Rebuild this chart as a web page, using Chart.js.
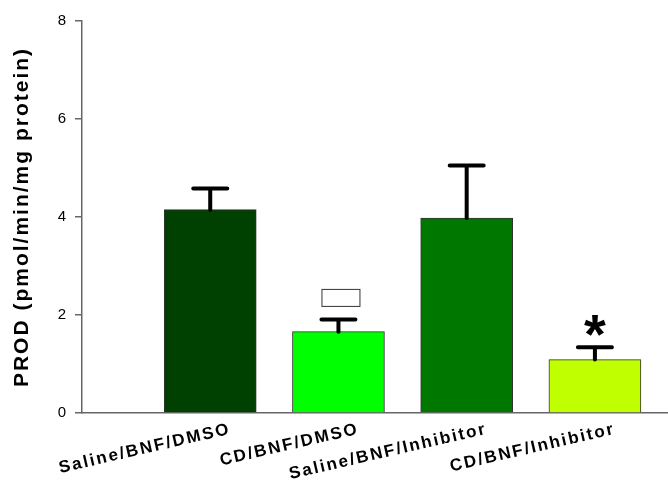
<!DOCTYPE html>
<html>
<head>
<meta charset="utf-8">
<script src="https://cdn.jsdelivr.net/npm/chart.js@4"></script>
<style>
  html, body { margin: 0; padding: 0; background: #fff; }
  #wrap { width: 668px; height: 482px; }
</style>
</head>
<body>
<div id="wrap"><canvas id="prodChart"></canvas></div>
<script>
// PROD activity per treatment group
let groups = ["Saline/BNF/DMSO", "CD/BNF/DMSO", "Saline/BNF/Inhibitor", "CD/BNF/Inhibitor"];
let means = [4.15, 1.66, 3.98, 1.09];
let errors = [0.43, 0.25, 1.07, 0.25];
let marks = ["", "box", "", "*"];
let barColors = ["#004000", "#00ff00", "#007800", "#c0ff00"];
let yTicks = [0, 2, 4, 6, 8];

// spaced-out lettering for the axis text
const spacing = {
    id: "spacing",
    beforeDraw(chart) { chart.ctx.letterSpacing = "2px"; },
    afterDraw(chart) { chart.ctx.letterSpacing = "0px"; }
};

// upper error whiskers plus significance marks
const errorBars = {
    id: "errorBars",
    afterDatasetsDraw(chart) {
        let ctx = chart.ctx;
        let y = chart.scales.y;
        let meta = chart.getDatasetMeta(0);
        ctx.save();
        ctx.letterSpacing = "0px";
        ctx.strokeStyle = "#000";
        ctx.lineWidth = 4;
        ctx.lineCap = "round";
        meta.data.forEach((bar, i) => {
            let yTop = y.getPixelForValue(means[i] + errors[i]);
            let yBase = y.getPixelForValue(means[i]);
            ctx.beginPath();
            ctx.moveTo(bar.x, yBase);
            ctx.lineTo(bar.x, yTop);
            ctx.moveTo(bar.x - 17, yTop);
            ctx.lineTo(bar.x + 17, yTop);
            ctx.stroke();

            if (marks[i] === "*") {
                ctx.fillStyle = "#000";
                ctx.font = "bold 56px Arial, 'Liberation Sans', sans-serif";
                ctx.textAlign = "center";
                ctx.textBaseline = "middle";
                ctx.fillText("*", bar.x, yTop - 10);
            } else if (marks[i] === "box") {
                ctx.save();
                ctx.lineWidth = 1;
                ctx.strokeStyle = "#333";
                ctx.fillStyle = "#fff";
                ctx.fillRect(bar.x - 16.5, yTop - 30, 38, 17);
                ctx.strokeRect(bar.x - 16.5, yTop - 30, 38, 17);
                ctx.restore();
            }
        });
        ctx.restore();
    }
};

let ctx = document.getElementById("prodChart").getContext("2d");

window.prodChart = new Chart(ctx, {
    type: "bar",
    data: {
        datasets: [{
            data: means.map((v, i) => ({ x: i + 1, y: v })),
            backgroundColor: barColors,
            borderColor: "#333",
            borderWidth: 1,
            barThickness: 92
        }]
    },
    options: {
        responsive: true,
        maintainAspectRatio: false,
        animation: false,
        layout: { padding: { top: 21, right: 0, bottom: 0, left: 0 } },
        plugins: {
            legend: { display: false },
            tooltip: { enabled: false }
        },
        scales: {
            x: {
                type: "linear",
                offset: false,
                min: 0,
                max: 4.57,
                afterBuildTicks: s => { s.ticks = groups.map((g, i) => ({ value: i + 1 })); },
                afterFit: s => { s.height = 69; },
                grid: { display: false, drawTicks: false },
                border: { display: true, color: "#666", width: 1.5 },
                ticks: {
                    autoSkip: false,
                    minRotation: 13,
                    maxRotation: 13,
                    padding: 6,
                    labelOffset: 20,
                    color: "#000",
                    font: { family: "Arial, 'Liberation Sans', sans-serif", size: 17, weight: "bold" },
                    callback: (v, i) => groups[i]
                }
            },
            y: {
                min: 0,
                max: 8,
                afterBuildTicks: s => { s.ticks = yTicks.map(v => ({ value: v })); },
                afterFit: s => { s.width = 82; },
                grid: { drawOnChartArea: false, drawTicks: true, tickLength: 7, color: "#666", lineWidth: 1.5 },
                border: { display: true, color: "#666", width: 1.5 },
                ticks: {
                    padding: 7,
                    color: "#000",
                    font: { family: "Arial, 'Liberation Sans', sans-serif", size: 15 }
                },
                title: {
                    display: true,
                    text: "PROD (pmol/min/mg protein)",
                    color: "#000",
                    padding: { top: 10, bottom: 0 },
                    font: { family: "Arial, 'Liberation Sans', sans-serif", size: 21, weight: "bold" }
                }
            }
        }
    },
    plugins: [spacing, errorBars]
});
</script>
</body>
</html>
